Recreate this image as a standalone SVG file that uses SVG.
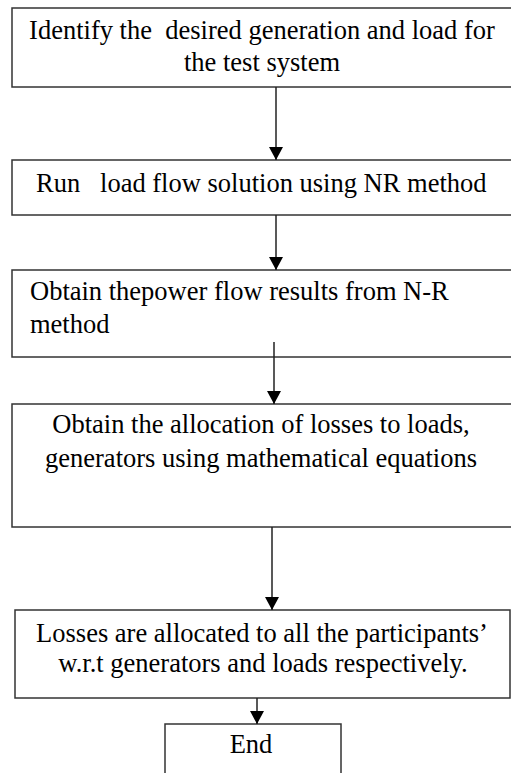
<svg xmlns="http://www.w3.org/2000/svg" width="511" height="773" viewBox="0 0 511 773">
<style>
.box{fill:#fff;stroke:#333;stroke-width:1.5}
.t{font-family:'Liberation Serif','DejaVu Serif',serif;font-size:26.5px;fill:#000}
.c{text-anchor:middle}
.conn{stroke:#222;stroke-width:1.5;fill:none}
</style>
<defs>
<marker id="ah" viewBox="0 0 10 10" refX="10" refY="5" markerWidth="13" markerHeight="14" markerUnits="userSpaceOnUse" orient="auto" preserveAspectRatio="none">
<path d="M0,0 L10,5 L0,10 Z" fill="#000"/>
</marker>
</defs>
<rect width="511" height="773" fill="#fff"/>
<g id="n1">
<rect class="box" x="12" y="8" width="510" height="79"/>
<text class="t c" x="262" y="39" xml:space="preserve">Identify the  desired generation and load for</text>
<text class="t c" x="262" y="71">the test system</text>
</g>
<g id="n2">
<rect class="box" x="12" y="160" width="510" height="55"/>
<text class="t" x="36" y="192" xml:space="preserve">Run   load flow solution using NR method</text>
</g>
<g id="n3">
<rect class="box" x="12" y="270" width="510" height="87"/>
<text class="t" x="30" y="300">Obtain thepower flow results from N-R</text>
<text class="t" x="30" y="333">method</text>
</g>
<g id="n4">
<rect class="box" x="12" y="404" width="510" height="123"/>
<text class="t c" x="261" y="433">Obtain the allocation of losses to loads,</text>
<text class="t c" x="261" y="467">generators using mathematical equations</text>
</g>
<g id="n5">
<rect class="box" x="15" y="610" width="495" height="88"/>
<text class="t c" x="262" y="642">Losses are allocated to all the participants’</text>
<text class="t c" x="263" y="672">w.r.t generators and loads respectively.</text>
</g>
<g id="n6">
<rect class="box" x="165" y="724" width="176" height="60"/>
<text class="t c" x="251" y="753">End</text>
</g>
<g id="connectors">
<line class="conn" x1="276" y1="87" x2="276" y2="160" marker-end="url(#ah)"/>
<line class="conn" x1="276" y1="215" x2="276" y2="270" marker-end="url(#ah)"/>
<line class="conn" x1="274" y1="342" x2="274" y2="404" marker-end="url(#ah)"/>
<line class="conn" x1="272" y1="527" x2="272" y2="610" marker-end="url(#ah)"/>
<line class="conn" x1="257" y1="698" x2="257" y2="724" marker-end="url(#ah)"/>
</g>
</svg>
